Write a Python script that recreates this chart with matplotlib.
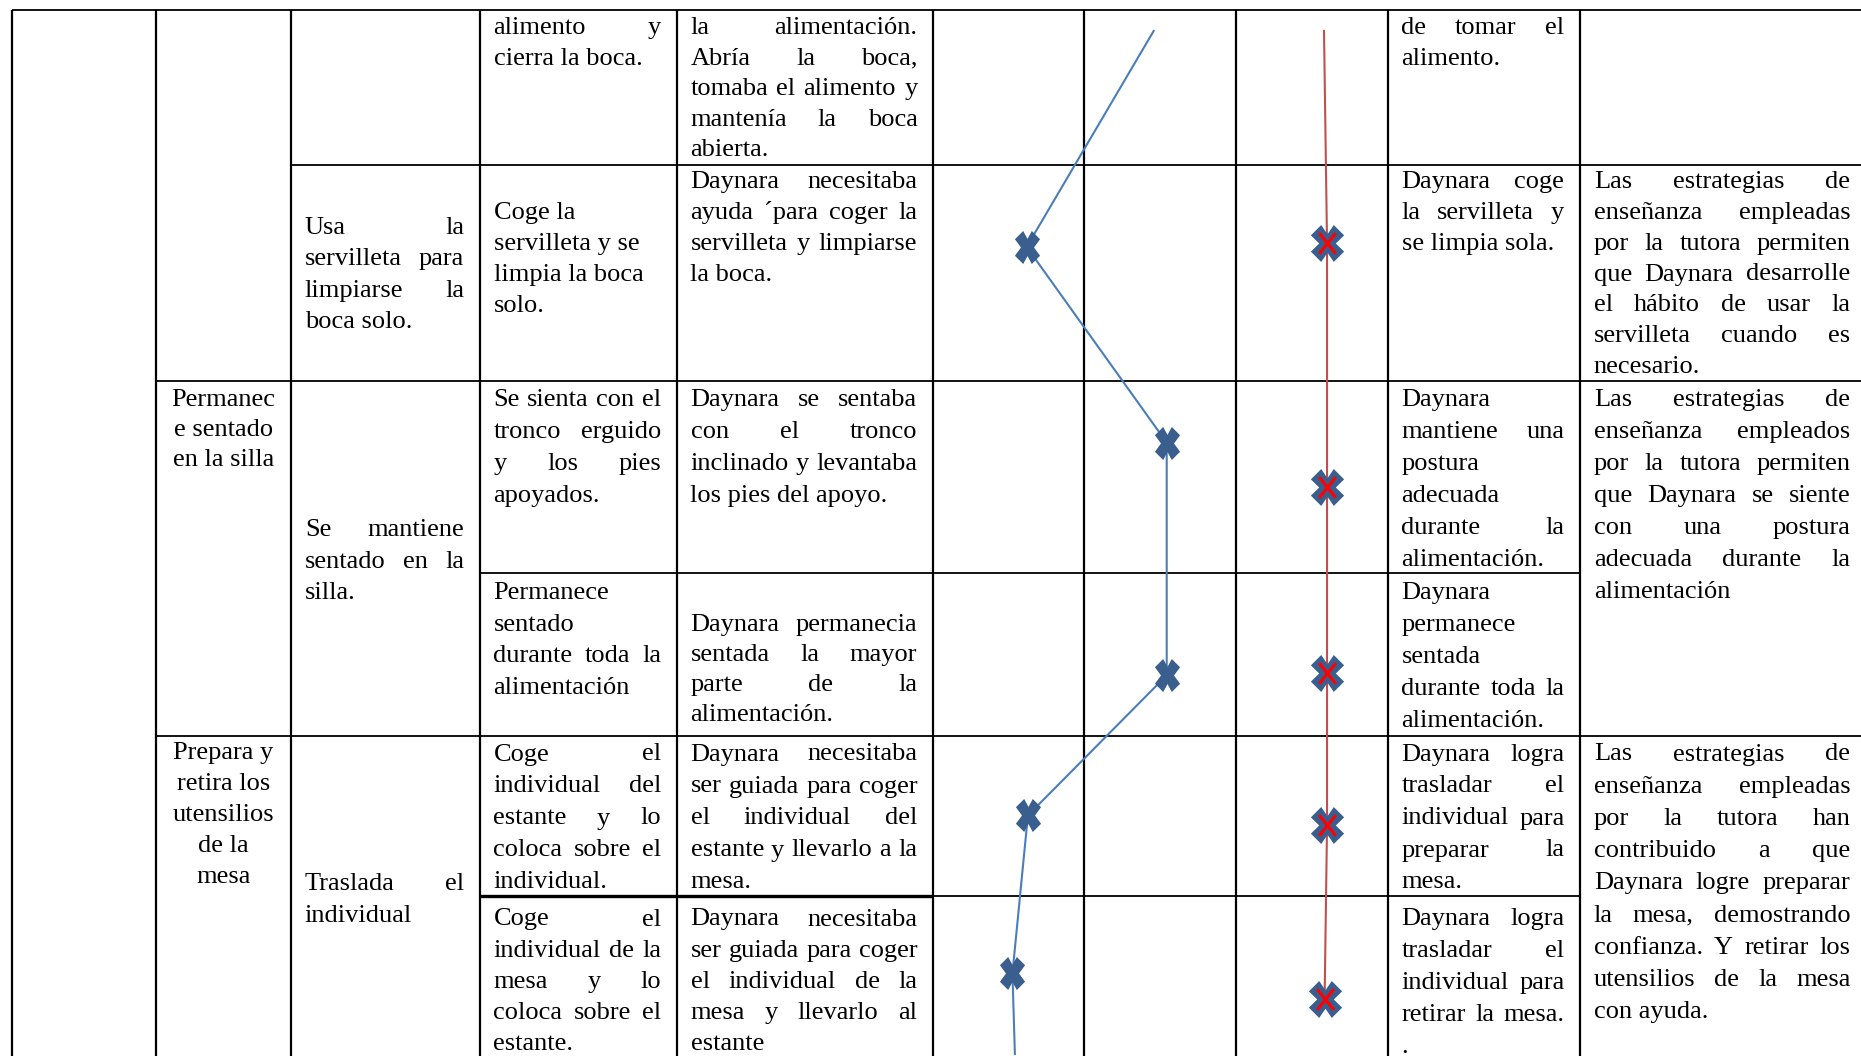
import matplotlib
matplotlib.use("Agg")
import matplotlib.pyplot as plt
from matplotlib.path import Path

W, H = 1861, 1056

# table grid, in page pixels
col_edges = [11.9, 155.5, 290.8, 479.5, 676.5, 932.9, 1083.6, 1235.5, 1387.5, 1579.8, 1866]
# horizontal rules: (y, from edge index, to edge index)
rules = [(9.5, 0, 10), (165, 2, 10), (381, 1, 10), (573, 3, 9), (736, 1, 10), (896, 3, 9)]

# scale columns 0..3 (three rating columns), rows in page pixels
blue_level = [1.457, 0.619, 1.543, 1.543, 0.627, 0.525, 0.541]
blue_row = [30.9, 246.9, 442.7, 675.3, 815.4, 973.3, 1054]
red_level = [2.581, 2.601, 2.601, 2.601, 2.601, 2.585]
red_row = [30.9, 243.3, 486.6, 673.0, 825.0, 999.4]

# text cells: (column, first line y, line step, mode, lines)
cells = [
    (3, 26.1, 30.9, "j", ["alimento y", "cierra la boca."]),
    (4, 26.1, 30.6, "j", ["la alimentación.", "Abría la boca,", "tomaba el alimento y",
                          "mantenía la boca", "abierta."]),
    (8, 26.1, 30.9, "j", ["de tomar el", "alimento."]),
    (2, 225.5, 31.6, "j", ["Usa la", "servilleta para", "limpiarse la", "boca solo."]),
    (3, 211.3, 30.9, "l", ["Coge la", "servilleta y se", "limpia la boca", "solo."]),
    (4, 180.4, 30.9, "j", ["Daynara necesitaba", "ayuda ´para coger la",
                           "servilleta y limpiarse", "la boca."]),
    (8, 180.4, 30.9, "j", ["Daynara coge", "la servilleta y", "se limpia sola."]),
    (9, 180.4, 30.7, "j", ["Las estrategias de", "enseñanza empleadas", "por la tutora permiten",
                           "que Daynara desarrolle", "el hábito de usar la",
                           "servilleta cuando es", "necesario."]),
    (1, 397.6, 30.3, "c", ["Permanec", "e sentado", "en la silla"]),
    (2, 528.2, 31.5, "j", ["Se mantiene", "sentado en la", "silla."]),
    (3, 397.6, 32.0, "j", ["Se sienta con el", "tronco erguido", "y los pies", "apoyados."]),
    (4, 397.6, 32.0, "j", ["Daynara se sentaba", "con el tronco", "inclinado y levantaba",
                           "los pies del apoyo."]),
    (8, 397.6, 32.0, "j", ["Daynara", "mantiene una", "postura", "adecuada", "durante la",
                           "alimentación."]),
    (9, 397.6, 32.0, "j", ["Las estrategias de", "enseñanza empleados", "por la tutora permiten",
                           "que Daynara se siente", "con una postura", "adecuada durante la",
                           "alimentación"]),
    (3, 591.0, 31.7, "j", ["Permanece", "sentado", "durante toda la", "alimentación"]),
    (4, 623.1, 30.1, "j", ["Daynara permanecia", "sentada la mayor", "parte de la",
                           "alimentación."]),
    (8, 591.0, 32.0, "j", ["Daynara", "permanece", "sentada", "durante toda la", "alimentación."]),
    (1, 751.3, 30.9, "c", ["Prepara y", "retira los", "utensilios", "de la", "mesa"]),
    (2, 881.9, 32.0, "j", ["Traslada el", "individual"]),
    (3, 752.5, 32.0, "j", ["Coge el", "individual del", "estante y lo", "coloca sobre el",
                           "individual."]),
    (4, 752.5, 32.0, "j", ["Daynara necesitaba", "ser guiada para coger", "el individual del",
                           "estante y llevarlo a la", "mesa."]),
    (8, 752.5, 32.0, "j", ["Daynara logra", "trasladar el", "individual para", "preparar la",
                           "mesa."]),
    (9, 752.5, 32.2, "j", ["Las estrategias de", "enseñanza empleadas", "por la tutora han",
                           "contribuido a que", "Daynara logre preparar", "la mesa, demostrando",
                           "confianza. Y retirar los", "utensilios de la mesa", "con ayuda."]),
    (3, 917.5, 31.2, "j", ["Coge el", "individual de la", "mesa y lo", "coloca sobre el",
                           "estante."]),
    (4, 917.5, 31.2, "j", ["Daynara necesitaba", "ser guiada para coger", "el individual de la",
                           "mesa y llevarlo al", "estante"]),
    (8, 917.5, 31.8, "j", ["Daynara logra", "trasladar el", "individual para", "retirar la mesa.",
                           "."]),
]

font = dict(family="Liberation Serif", fontsize=19, color="black")
pad_l, pad_r = 14, 15.5
base_off = 8

fig = plt.figure(figsize=(W / 100, H / 100), dpi=100)
ax = fig.add_axes([0, 0, 1, 1])
ax.set_xlim(0, W)
ax.set_ylim(H, 0)
ax.axis("off")

# grid
for x in col_edges[:-1]:
    ax.plot([x, x], [9.5, H], color="black", lw=1.6, solid_capstyle="butt")
for y, a, b in rules:
    ax.plot([col_edges[a], col_edges[b]], [y, y], color="black", lw=1.3, solid_capstyle="butt")
ax.plot([col_edges[3], col_edges[5]], [896, 896], color="black", lw=2.4, solid_capstyle="butt")

renderer = fig.canvas.get_renderer()


def text_width(s):
    t = ax.text(0, 0, s, **font)
    w = t.get_window_extent(renderer=renderer).width
    t.remove()
    return w


for c, y0, step, mode, lines in cells:
    x0 = col_edges[c] + pad_l
    x1 = col_edges[c + 1] - pad_r
    for i, line in enumerate(lines):
        y = y0 + i * step + base_off
        words = line.split()
        if mode == "c":
            ax.text((col_edges[c] + col_edges[c + 1]) / 2, y, line, ha="center", va="baseline", **font)
        elif mode == "j" and i < len(lines) - 1 and len(words) > 1:
            widths = [text_width(w) for w in words]
            gap = (x1 - x0 - sum(widths)) / (len(words) - 1)
            x = x0
            for w, wd in zip(words, widths):
                ax.text(x, y, w, ha="left", va="baseline", **font)
                x += wd + gap
        else:
            ax.text(x0, y, line, ha="left", va="baseline", **font)

# rating lines
cx = fig.add_axes([col_edges[5] / W, 0, (col_edges[8] - col_edges[5]) / W, 1])
cx.set_xlim(0, 3)
cx.set_ylim(H, 0)
cx.axis("off")
cx.patch.set_alpha(0)

MV, LN, CL = Path.MOVETO, Path.LINETO, Path.CLOSEPOLY


def x_shape(w, d, n):
    v = [(-w, 1 - d), (-w + d, 1), (0, n), (w - d, 1), (w, 1 - d), (n * w, 0),
         (w, -1 + d), (w - d, -1), (0, -n), (-w + d, -1), (-w, -1 + d), (-n * w, 0), (-w, 1 - d)]
    return Path(v, [MV] + [LN] * 11 + [CL])


blue_x = x_shape(0.76, 0.5, 0.52)
red_bg = x_shape(0.9, 0.56, 0.5)
red_cross = Path([(-0.8, 1), (0.8, -1), (-0.8, -1), (0.8, 1)], [MV, LN, MV, LN])
mark_col = "#3A5F8F"

cx.plot(blue_level, blue_row, color="#4A7EBB", lw=1.5, zorder=2)
cx.plot(blue_level[1:6], blue_row[1:6], ls="none", marker=blue_x, ms=23.8,
        mfc=mark_col, mec=mark_col, mew=0, zorder=3)

cx.plot(red_level, red_row, color="#C0504D", lw=1.5, zorder=2)
cx.plot(red_level[1:], red_row[1:], ls="none", marker=red_bg, ms=26.6,
        mfc=mark_col, mec=mark_col, mew=0, zorder=3)
cx.plot(red_level[1:], red_row[1:], ls="none", marker=red_cross, ms=15,
        mfc="none", mec="#FF0000", mew=2.2, zorder=4)

fig.savefig("out.png", dpi=100)
